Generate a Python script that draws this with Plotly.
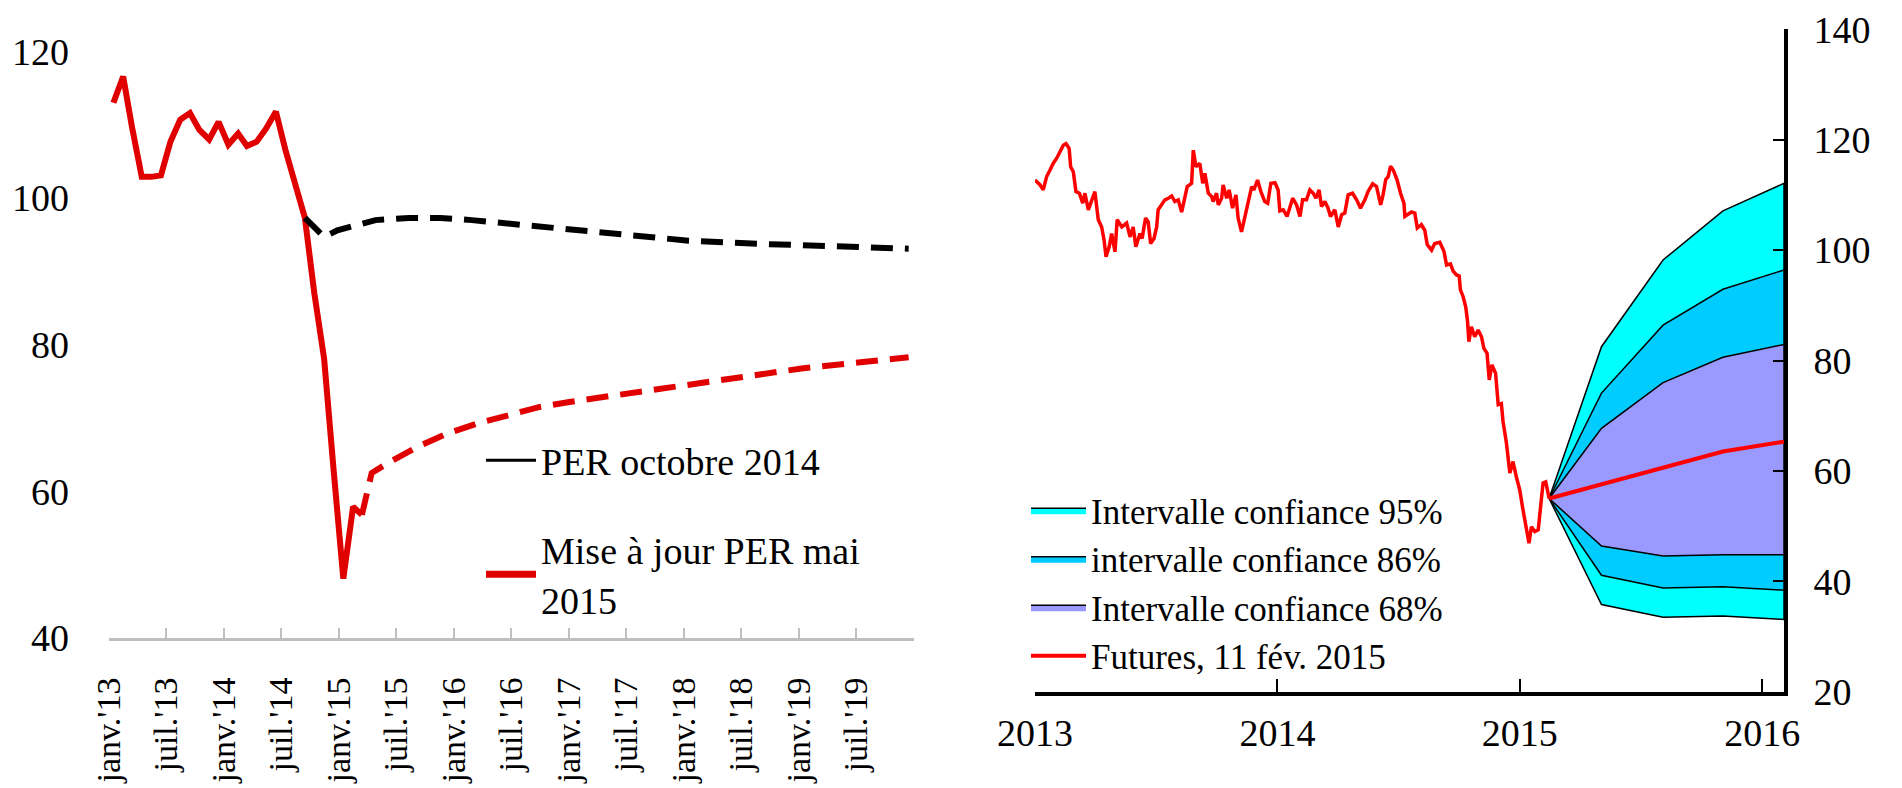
import plotly.graph_objects as go

# --- left chart : PER monthly path ---
per_months = [f"{2013 + i // 12}-{i % 12 + 1:02d}-15" for i in range(27)]
per_actual = [113.0, 116.6, 109.7, 102.9, 102.9, 103.1, 107.7, 110.7, 111.6, 109.3,
              108.0, 110.4, 107.3, 108.8, 107.1, 107.7, 109.5, 111.8, 106.6, 101.6,
              97.3, 87.0, 78.1, 63.0, 48.1, 57.9, 56.8]

oct14_dates = ["2014-09-15", "2014-11-15", "2014-12-27", "2015-02-21", "2015-04-27",
               "2015-08-12", "2015-11-18", "2016-02-27", "2016-06-05", "2016-09-15",
               "2016-12-24", "2017-04-09", "2017-07-15", "2018-01-15", "2018-08-03",
               "2019-02-15", "2019-12-15"]
oct14_values = [97.3, 94.7, 95.6, 96.3, 97.0, 97.3, 97.3, 97.0, 96.6, 96.2,
                95.7, 95.3, 94.8, 94.2, 93.8, 93.5, 93.1]

may15_dates = ["2015-03-15", "2015-03-30", "2015-04-15", "2015-06-03", "2015-09-08",
               "2015-12-12", "2016-03-18", "2016-06-24", "2016-09-27", "2017-01-02",
               "2017-04-27", "2017-08-03", "2017-11-06", "2018-01-15", "2018-07-15",
               "2019-01-15", "2019-07-15", "2019-12-15"]
may15_values = [56.8, 59.3, 62.5, 63.8, 66.1, 67.9, 69.3, 70.4, 71.5, 72.2,
                72.9, 73.6, 74.2, 74.7, 75.8, 76.8, 77.6, 78.3]

left_tickvals = [f"{y}-{m}-01" for y in range(2013, 2020) for m in ("01", "07")] + ["2020-01-01"]
left_ticktext = [f"{m}'{str(y)[2:]}" for y in range(2013, 2020) for m in ("janv.", "juil.")] + [""]

# --- right chart : daily Brent (decimal years) and fan chart ---
brent_t = [2013.000, 2013.021, 2013.034, 2013.048, 2013.062, 2013.075, 2013.089, 2013.103,
           2013.117, 2013.128, 2013.141, 2013.147, 2013.158, 2013.169, 2013.183, 2013.197,
           2013.206, 2013.220, 2013.234, 2013.247, 2013.261, 2013.275, 2013.285, 2013.293,
           2013.306, 2013.316, 2013.330, 2013.339, 2013.358, 2013.378, 2013.392, 2013.405,
           2013.416, 2013.433, 2013.442, 2013.456, 2013.467, 2013.477, 2013.491, 2013.502,
           2013.508, 2013.522, 2013.536, 2013.550, 2013.564, 2013.577, 2013.591, 2013.605,
           2013.619, 2013.628, 2013.646, 2013.653, 2013.664, 2013.680, 2013.692, 2013.701,
           2013.715, 2013.729, 2013.735, 2013.749, 2013.756, 2013.770, 2013.776, 2013.791,
           2013.801, 2013.815, 2013.829, 2013.838, 2013.852, 2013.866, 2013.880, 2013.894,
           2013.903, 2013.918, 2013.932, 2013.948, 2013.960, 2013.973, 2013.990, 2014.003,
           2014.010, 2014.024, 2014.040, 2014.063, 2014.079, 2014.093, 2014.104, 2014.120,
           2014.134, 2014.148, 2014.159, 2014.172, 2014.182, 2014.196, 2014.209, 2014.219,
           2014.237, 2014.251, 2014.265, 2014.278, 2014.292, 2014.310, 2014.327, 2014.343,
           2014.361, 2014.374, 2014.393, 2014.409, 2014.426, 2014.436, 2014.447, 2014.457,
           2014.467, 2014.478, 2014.494, 2014.508, 2014.522, 2014.526, 2014.539, 2014.553,
           2014.567, 2014.577, 2014.594, 2014.608, 2014.618, 2014.636, 2014.649, 2014.670,
           2014.687, 2014.698, 2014.714, 2014.725, 2014.739, 2014.750, 2014.755, 2014.766,
           2014.777, 2014.784, 2014.790, 2014.800, 2014.814, 2014.828, 2014.842, 2014.852,
           2014.865, 2014.874, 2014.885, 2014.900, 2014.911, 2014.924, 2014.931, 2014.945,
           2014.959, 2014.972, 2014.986, 2015.000, 2015.011, 2015.021, 2015.028, 2015.038,
           2015.048, 2015.062, 2015.076, 2015.082, 2015.089, 2015.096, 2015.107, 2015.121]
brent_v = [112.7, 111.8, 110.9, 113.3, 114.5, 115.7, 116.6, 117.8,
           119.0, 119.3, 118.4, 115.1, 114.2, 110.6, 110.3, 108.5,
           110.3, 107.3, 109.1, 110.6, 105.5, 104.2, 101.8, 98.8,
           100.6, 103.0, 99.7, 105.5, 104.2, 104.9, 102.4, 104.2,
           100.6, 103.0, 102.1, 105.8, 105.1, 101.2, 102.1, 104.2,
           107.3, 108.2, 109.1, 109.4, 109.8, 108.8, 109.1, 106.9,
           110.0, 111.5, 112.1, 118.1, 115.1, 115.7, 112.1, 113.9,
           110.3, 109.7, 108.8, 110.3, 108.2, 109.4, 111.8, 109.4,
           110.9, 107.6, 110.0, 105.8, 103.3, 105.8, 108.8, 111.5,
           110.9, 112.7, 110.6, 108.8, 108.5, 112.1, 112.2, 110.9,
           107.1, 107.3, 106.1, 109.4, 108.2, 106.1, 109.1, 109.1,
           110.9, 110.3, 109.4, 110.9, 107.9, 108.8, 107.6, 106.1,
           107.3, 104.2, 106.4, 106.7, 110.0, 110.3, 109.1, 107.6,
           109.1, 110.6, 112.0, 111.5, 108.2, 110.0, 112.8, 113.3,
           115.2, 114.5, 112.7, 110.3, 108.5, 106.1, 106.4, 106.9,
           106.7, 104.0, 104.6, 103.6, 101.0, 100.0, 101.2, 101.4,
           99.8, 97.3, 97.5, 96.2, 95.5, 95.3, 92.8, 91.6,
           89.7, 87.3, 83.4, 86.1, 84.3, 85.5, 84.3, 82.2,
           81.3, 76.5, 79.2, 77.7, 72.0, 72.2, 68.9, 65.0,
           59.6, 61.7, 58.9, 56.5, 53.5, 51.1, 49.9, 46.9,
           49.9, 49.0, 49.3, 51.7, 54.7, 57.8, 58.0, 55.0]

fan_t = [2015.121, 2015.337, 2015.591, 2015.838, 2016.09]
upper95 = [55.0, 82.5, 98.2, 107.1, 112.1]
upper86 = [55.0, 74.1, 86.4, 92.9, 96.4]
upper68 = [55.0, 67.7, 76.0, 80.6, 82.9]
lower68 = [55.0, 46.4, 44.6, 44.8, 44.8]
lower86 = [55.0, 41.1, 38.8, 39.0, 38.4]
lower95 = [55.0, 35.8, 33.5, 33.7, 33.1]
futures = [55.0, 57.6, 60.6, 63.5, 65.3]

FONT = "Liberation Serif"
RED_L = "#E00000"

fig = go.Figure()

# left chart
fig.add_trace(go.Scatter(x=per_months, y=per_actual, mode="lines", showlegend=False,
                         line=dict(color=RED_L, width=6), xaxis="x", yaxis="y"))
fig.add_trace(go.Scatter(x=oct14_dates, y=oct14_values, mode="lines", showlegend=False,
                         line=dict(color="black", width=6, dash="22px,12px"), xaxis="x", yaxis="y"))
fig.add_trace(go.Scatter(x=may15_dates, y=may15_values, mode="lines", showlegend=False,
                         line=dict(color=RED_L, width=6, dash="22px,12px"), xaxis="x", yaxis="y"))
# legend entries only
fig.add_trace(go.Scatter(x=[None], y=[None], mode="lines", name="PER octobre 2014",
                         line=dict(color="black", width=3), legend="legend", legendgroup="a",
                         xaxis="x", yaxis="y"))
fig.add_trace(go.Scatter(x=[None], y=[None], mode="lines", name="Mise à jour PER mai<br>2015",
                         line=dict(color=RED_L, width=7), legend="legend", legendgroup="b",
                         xaxis="x", yaxis="y"))

# right chart
def band(up, lo):
    return fan_t + fan_t[::-1], up + lo[::-1]

for up, lo, col, nm in [(upper95, lower95, "#00FFFF", "Intervalle confiance 95%"),
                        (upper86, lower86, "#00CCFF", "intervalle confiance 86%"),
                        (upper68, lower68, "#9999FF", "Intervalle confiance 68%")]:
    bx, by = band(up, lo)
    fig.add_trace(go.Scatter(x=bx, y=by, fill="toself", fillcolor=col, mode="lines",
                             line=dict(color="black", width=1.5), name=nm,
                             legend="legend2", xaxis="x2", yaxis="y2"))

fig.add_trace(go.Scatter(x=fan_t, y=futures, mode="lines", name="Futures, 11 fév. 2015",
                         line=dict(color="#FF0000", width=4), legend="legend2",
                         xaxis="x2", yaxis="y2"))
fig.add_trace(go.Scatter(x=brent_t, y=brent_v, mode="lines", showlegend=False,
                         line=dict(color="#FF0000", width=3.5), xaxis="x2", yaxis="y2"))

# page body has an 8px margin, so figure coords = screen coords - 8
W, H = 1894, 780
fig.update_layout(
    width=W, height=H,
    margin=dict(l=0, r=0, t=0, b=0),
    paper_bgcolor="white", plot_bgcolor="white",
    font=dict(family=FONT, size=38, color="black"),
    xaxis=dict(domain=[101 / W, 906 / W], type="date",
               range=["2013-01-01", "2020-01-01"],
               tickmode="array", tickvals=left_tickvals, ticktext=left_ticktext,
               tickangle=-90, ticks="inside", ticklen=10, tickwidth=2, tickcolor="#BFBFBF",
               tickfont=dict(size=34),
               showline=True, linecolor="#BFBFBF", linewidth=3,
               showgrid=False, zeroline=False, ticklabelstandoff=23,
               anchor="y", automargin=False),
    yaxis=dict(domain=[(H - 630) / H, (H - 43.5) / H], range=[40, 120],
               tickvals=[40, 60, 80, 100, 120], showgrid=False, zeroline=False,
               showline=False, ticks="", ticklabelstandoff=39,
               anchor="x", automargin=False),
    xaxis2=dict(domain=[1027 / W, 1776 / W], range=[2013, 2016.09],
                tickvals=[2013, 2014, 2015, 2016], ticks="inside", ticklen=13,
                tickwidth=2, tickcolor="black", showline=True, linecolor="black",
                linewidth=4, showgrid=False, zeroline=False, ticklabelstandoff=5,
                anchor="y2", automargin=False),
    yaxis2=dict(domain=[(H - 683.7) / H, (H - 21.3) / H], range=[20, 140],
                tickvals=[20, 40, 60, 80, 100, 120, 140], side="right",
                ticks="inside", ticklen=11, tickwidth=2, tickcolor="black",
                showline=True, linecolor="black", linewidth=4, showgrid=False,
                zeroline=False, ticklabelstandoff=18, anchor="x2", automargin=False),
    legend=dict(x=473 / W, y=(H - 421) / H, xanchor="left", yanchor="top",
                bgcolor="rgba(0,0,0,0)", font=dict(size=38, family=FONT),
                traceorder="grouped", tracegroupgap=37, itemwidth=50),
    legend2=dict(x=1018 / W, y=(H - 473) / H, xanchor="left", yanchor="top",
                 bgcolor="rgba(0,0,0,0)", font=dict(size=35, family=FONT),
                 itemwidth=55, tracegroupgap=0),
)

fig.write_html("out.html")
